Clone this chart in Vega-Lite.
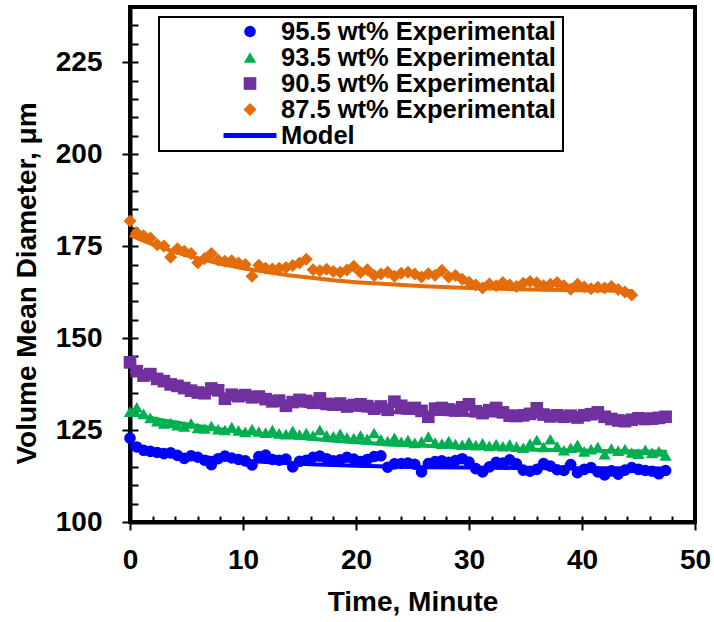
{
  "$schema": "https://vega.github.io/schema/vega-lite/v6.json",
  "width": 565,
  "height": 515,
  "autosize": {"type": "none"},
  "padding": {"left": 130, "top": 7, "right": 19, "bottom": 100},
  "background": "white",
  "config": {
    "view": {"stroke": "black", "strokeWidth": 4},
    "font": "Liberation Sans",
    "axis": {
      "grid": false,
      "domainColor": "black",
      "domainWidth": 4,
      "tickColor": "black",
      "tickWidth": 2,
      "labelFont": "Liberation Sans",
      "labelFontSize": 28,
      "labelFontWeight": "bold",
      "labelColor": "black",
      "titleFont": "Liberation Sans",
      "titleFontSize": 28,
      "titleFontWeight": "bold",
      "titleColor": "black"
    },
    "legend": {
      "orient": "none", "legendX": 29, "legendY": 10, "padding": 2, "rowPadding": 0, "clipHeight": 25,
      "symbolOffset": 62.5, "labelOffset": 4.5, "symbolStrokeWidth": 0,
      "strokeColor": "black", "fillColor": "white", "strokeWidth": 2,
      "titleOrient": "right", "titlePadding": 5, "titleFont": "Liberation Sans", "titleFontSize": 25.5, "titleFontWeight": "bold",
      "labelFont": "Liberation Sans", "labelFontSize": 25.5, "labelFontWeight": "bold", "labelColor": "black", "labelLimit": 600
    }
  },
  "datasets": {
    "model": [
      {"s": "95.5 wt% Experimental", "t": 0, "d": 120.5},
      {"s": "95.5 wt% Experimental", "t": 1, "d": 119.9},
      {"s": "95.5 wt% Experimental", "t": 2, "d": 119.4},
      {"s": "95.5 wt% Experimental", "t": 3, "d": 119.0},
      {"s": "95.5 wt% Experimental", "t": 4, "d": 118.5},
      {"s": "95.5 wt% Experimental", "t": 5, "d": 118.1},
      {"s": "95.5 wt% Experimental", "t": 6, "d": 117.8},
      {"s": "95.5 wt% Experimental", "t": 8, "d": 117.2},
      {"s": "95.5 wt% Experimental", "t": 10, "d": 116.7},
      {"s": "95.5 wt% Experimental", "t": 12, "d": 116.3},
      {"s": "95.5 wt% Experimental", "t": 14, "d": 116.0},
      {"s": "95.5 wt% Experimental", "t": 16, "d": 115.7},
      {"s": "95.5 wt% Experimental", "t": 18, "d": 115.5},
      {"s": "95.5 wt% Experimental", "t": 20, "d": 115.3},
      {"s": "95.5 wt% Experimental", "t": 23, "d": 115.1},
      {"s": "95.5 wt% Experimental", "t": 26, "d": 114.9},
      {"s": "95.5 wt% Experimental", "t": 30, "d": 114.8},
      {"s": "95.5 wt% Experimental", "t": 34, "d": 114.7},
      {"s": "95.5 wt% Experimental", "t": 38, "d": 114.6},
      {"s": "95.5 wt% Experimental", "t": 42, "d": 114.6},
      {"s": "95.5 wt% Experimental", "t": 47.5, "d": 114.55},
      {"s": "93.5 wt% Experimental", "t": 0, "d": 129.5},
      {"s": "93.5 wt% Experimental", "t": 1, "d": 128.8},
      {"s": "93.5 wt% Experimental", "t": 2, "d": 128.2},
      {"s": "93.5 wt% Experimental", "t": 3, "d": 127.6},
      {"s": "93.5 wt% Experimental", "t": 4, "d": 127.1},
      {"s": "93.5 wt% Experimental", "t": 5, "d": 126.6},
      {"s": "93.5 wt% Experimental", "t": 6, "d": 126.1},
      {"s": "93.5 wt% Experimental", "t": 8, "d": 125.2},
      {"s": "93.5 wt% Experimental", "t": 10, "d": 124.4},
      {"s": "93.5 wt% Experimental", "t": 12, "d": 123.7},
      {"s": "93.5 wt% Experimental", "t": 14, "d": 123.1},
      {"s": "93.5 wt% Experimental", "t": 16, "d": 122.6},
      {"s": "93.5 wt% Experimental", "t": 18, "d": 122.1},
      {"s": "93.5 wt% Experimental", "t": 20, "d": 121.7},
      {"s": "93.5 wt% Experimental", "t": 23, "d": 121.1},
      {"s": "93.5 wt% Experimental", "t": 26, "d": 120.7},
      {"s": "93.5 wt% Experimental", "t": 30, "d": 120.2},
      {"s": "93.5 wt% Experimental", "t": 34, "d": 119.8},
      {"s": "93.5 wt% Experimental", "t": 38, "d": 119.5},
      {"s": "93.5 wt% Experimental", "t": 42, "d": 119.3},
      {"s": "93.5 wt% Experimental", "t": 47.5, "d": 119.1},
      {"s": "90.5 wt% Experimental", "t": 0, "d": 141.0},
      {"s": "90.5 wt% Experimental", "t": 1, "d": 140.0},
      {"s": "90.5 wt% Experimental", "t": 2, "d": 139.0},
      {"s": "90.5 wt% Experimental", "t": 3, "d": 138.1},
      {"s": "90.5 wt% Experimental", "t": 4, "d": 137.3},
      {"s": "90.5 wt% Experimental", "t": 5, "d": 136.6},
      {"s": "90.5 wt% Experimental", "t": 6, "d": 135.9},
      {"s": "90.5 wt% Experimental", "t": 8, "d": 134.7},
      {"s": "90.5 wt% Experimental", "t": 10, "d": 133.7},
      {"s": "90.5 wt% Experimental", "t": 12, "d": 132.8},
      {"s": "90.5 wt% Experimental", "t": 14, "d": 132.1},
      {"s": "90.5 wt% Experimental", "t": 16, "d": 131.4},
      {"s": "90.5 wt% Experimental", "t": 18, "d": 130.9},
      {"s": "90.5 wt% Experimental", "t": 20, "d": 130.5},
      {"s": "90.5 wt% Experimental", "t": 23, "d": 129.9},
      {"s": "90.5 wt% Experimental", "t": 26, "d": 129.5},
      {"s": "90.5 wt% Experimental", "t": 30, "d": 129.1},
      {"s": "90.5 wt% Experimental", "t": 34, "d": 128.8},
      {"s": "90.5 wt% Experimental", "t": 38, "d": 128.6},
      {"s": "90.5 wt% Experimental", "t": 42, "d": 128.4},
      {"s": "90.5 wt% Experimental", "t": 47.5, "d": 128.3},
      {"s": "87.5 wt% Experimental", "t": 0, "d": 178.0},
      {"s": "87.5 wt% Experimental", "t": 1, "d": 176.7},
      {"s": "87.5 wt% Experimental", "t": 2, "d": 175.5},
      {"s": "87.5 wt% Experimental", "t": 3, "d": 174.4},
      {"s": "87.5 wt% Experimental", "t": 4, "d": 173.4},
      {"s": "87.5 wt% Experimental", "t": 5, "d": 172.5},
      {"s": "87.5 wt% Experimental", "t": 6, "d": 171.7},
      {"s": "87.5 wt% Experimental", "t": 8, "d": 170.2},
      {"s": "87.5 wt% Experimental", "t": 10, "d": 169.0},
      {"s": "87.5 wt% Experimental", "t": 12, "d": 168.0},
      {"s": "87.5 wt% Experimental", "t": 14, "d": 167.1},
      {"s": "87.5 wt% Experimental", "t": 16, "d": 166.4},
      {"s": "87.5 wt% Experimental", "t": 18, "d": 165.7},
      {"s": "87.5 wt% Experimental", "t": 20, "d": 165.2},
      {"s": "87.5 wt% Experimental", "t": 23, "d": 164.6},
      {"s": "87.5 wt% Experimental", "t": 26, "d": 164.1},
      {"s": "87.5 wt% Experimental", "t": 30, "d": 163.6},
      {"s": "87.5 wt% Experimental", "t": 34, "d": 163.3},
      {"s": "87.5 wt% Experimental", "t": 38, "d": 163.1},
      {"s": "87.5 wt% Experimental", "t": 42, "d": 162.9},
      {"s": "87.5 wt% Experimental", "t": 44.4, "d": 162.8}
    ],
    "exp": [
      {"s": "95.5 wt% Experimental", "t": 0, "d": 122.8},
      {"s": "95.5 wt% Experimental", "t": 0.6, "d": 120.4},
      {"s": "95.5 wt% Experimental", "t": 1.2, "d": 119.5},
      {"s": "95.5 wt% Experimental", "t": 1.8, "d": 119.2},
      {"s": "95.5 wt% Experimental", "t": 2.4, "d": 118.9},
      {"s": "95.5 wt% Experimental", "t": 3.0, "d": 118.6},
      {"s": "95.5 wt% Experimental", "t": 3.6, "d": 118.8},
      {"s": "95.5 wt% Experimental", "t": 4.2, "d": 118.1},
      {"s": "95.5 wt% Experimental", "t": 4.8, "d": 117.3},
      {"s": "95.5 wt% Experimental", "t": 5.4, "d": 118.0},
      {"s": "95.5 wt% Experimental", "t": 6.0, "d": 117.6},
      {"s": "95.5 wt% Experimental", "t": 6.6, "d": 116.8},
      {"s": "95.5 wt% Experimental", "t": 7.2, "d": 115.6},
      {"s": "95.5 wt% Experimental", "t": 7.8, "d": 117.2},
      {"s": "95.5 wt% Experimental", "t": 8.4, "d": 117.9},
      {"s": "95.5 wt% Experimental", "t": 9.0, "d": 117.4},
      {"s": "95.5 wt% Experimental", "t": 9.6, "d": 117.0},
      {"s": "95.5 wt% Experimental", "t": 10.2, "d": 116.6},
      {"s": "95.5 wt% Experimental", "t": 10.8, "d": 115.5},
      {"s": "95.5 wt% Experimental", "t": 11.4, "d": 117.8},
      {"s": "95.5 wt% Experimental", "t": 12.0, "d": 118.2},
      {"s": "95.5 wt% Experimental", "t": 12.6, "d": 117.0},
      {"s": "95.5 wt% Experimental", "t": 13.2, "d": 116.8},
      {"s": "95.5 wt% Experimental", "t": 13.8, "d": 117.1},
      {"s": "95.5 wt% Experimental", "t": 14.4, "d": 115.0},
      {"s": "95.5 wt% Experimental", "t": 15.0, "d": 116.5},
      {"s": "95.5 wt% Experimental", "t": 15.6, "d": 116.8},
      {"s": "95.5 wt% Experimental", "t": 16.2, "d": 117.6},
      {"s": "95.5 wt% Experimental", "t": 16.8, "d": 117.9},
      {"s": "95.5 wt% Experimental", "t": 17.4, "d": 117.2},
      {"s": "95.5 wt% Experimental", "t": 18.0, "d": 116.6},
      {"s": "95.5 wt% Experimental", "t": 18.6, "d": 116.9},
      {"s": "95.5 wt% Experimental", "t": 19.2, "d": 117.6},
      {"s": "95.5 wt% Experimental", "t": 19.8, "d": 117.1},
      {"s": "95.5 wt% Experimental", "t": 20.4, "d": 116.4},
      {"s": "95.5 wt% Experimental", "t": 21.0, "d": 117.0},
      {"s": "95.5 wt% Experimental", "t": 21.6, "d": 117.8},
      {"s": "95.5 wt% Experimental", "t": 22.2, "d": 118.0},
      {"s": "95.5 wt% Experimental", "t": 22.8, "d": 114.9},
      {"s": "95.5 wt% Experimental", "t": 23.4, "d": 115.8},
      {"s": "95.5 wt% Experimental", "t": 24.0, "d": 115.9},
      {"s": "95.5 wt% Experimental", "t": 24.6, "d": 116.0},
      {"s": "95.5 wt% Experimental", "t": 25.2, "d": 115.7},
      {"s": "95.5 wt% Experimental", "t": 25.8, "d": 113.6},
      {"s": "95.5 wt% Experimental", "t": 26.4, "d": 115.9},
      {"s": "95.5 wt% Experimental", "t": 27.0, "d": 116.4},
      {"s": "95.5 wt% Experimental", "t": 27.6, "d": 116.6},
      {"s": "95.5 wt% Experimental", "t": 28.2, "d": 116.2},
      {"s": "95.5 wt% Experimental", "t": 28.8, "d": 116.7},
      {"s": "95.5 wt% Experimental", "t": 29.4, "d": 117.2},
      {"s": "95.5 wt% Experimental", "t": 30.0, "d": 116.3},
      {"s": "95.5 wt% Experimental", "t": 30.6, "d": 114.5},
      {"s": "95.5 wt% Experimental", "t": 31.2, "d": 113.6},
      {"s": "95.5 wt% Experimental", "t": 31.8, "d": 115.0},
      {"s": "95.5 wt% Experimental", "t": 32.4, "d": 116.2},
      {"s": "95.5 wt% Experimental", "t": 33.0, "d": 116.0},
      {"s": "95.5 wt% Experimental", "t": 33.6, "d": 116.9},
      {"s": "95.5 wt% Experimental", "t": 34.2, "d": 115.8},
      {"s": "95.5 wt% Experimental", "t": 34.8, "d": 114.1},
      {"s": "95.5 wt% Experimental", "t": 35.4, "d": 113.8},
      {"s": "95.5 wt% Experimental", "t": 36.0, "d": 114.3},
      {"s": "95.5 wt% Experimental", "t": 36.6, "d": 115.9},
      {"s": "95.5 wt% Experimental", "t": 37.2, "d": 115.2},
      {"s": "95.5 wt% Experimental", "t": 37.8, "d": 114.2},
      {"s": "95.5 wt% Experimental", "t": 38.4, "d": 114.0},
      {"s": "95.5 wt% Experimental", "t": 39.0, "d": 115.6},
      {"s": "95.5 wt% Experimental", "t": 39.6, "d": 113.4},
      {"s": "95.5 wt% Experimental", "t": 40.2, "d": 114.3},
      {"s": "95.5 wt% Experimental", "t": 40.8, "d": 114.8},
      {"s": "95.5 wt% Experimental", "t": 41.4, "d": 113.6},
      {"s": "95.5 wt% Experimental", "t": 42.0, "d": 112.8},
      {"s": "95.5 wt% Experimental", "t": 42.6, "d": 113.9},
      {"s": "95.5 wt% Experimental", "t": 43.2, "d": 113.0},
      {"s": "95.5 wt% Experimental", "t": 43.8, "d": 114.1},
      {"s": "95.5 wt% Experimental", "t": 44.4, "d": 114.8},
      {"s": "95.5 wt% Experimental", "t": 45.0, "d": 114.3},
      {"s": "95.5 wt% Experimental", "t": 45.6, "d": 114.0},
      {"s": "95.5 wt% Experimental", "t": 46.2, "d": 113.8},
      {"s": "95.5 wt% Experimental", "t": 46.8, "d": 113.1},
      {"s": "95.5 wt% Experimental", "t": 47.4, "d": 114.0},
      {"s": "93.5 wt% Experimental", "t": 0, "d": 130.0},
      {"s": "93.5 wt% Experimental", "t": 0.6, "d": 131.2},
      {"s": "93.5 wt% Experimental", "t": 1.2, "d": 129.4},
      {"s": "93.5 wt% Experimental", "t": 1.8, "d": 128.3},
      {"s": "93.5 wt% Experimental", "t": 2.4, "d": 127.4},
      {"s": "93.5 wt% Experimental", "t": 3.0, "d": 126.8},
      {"s": "93.5 wt% Experimental", "t": 3.6, "d": 126.9},
      {"s": "93.5 wt% Experimental", "t": 4.2, "d": 126.3},
      {"s": "93.5 wt% Experimental", "t": 4.8, "d": 126.0},
      {"s": "93.5 wt% Experimental", "t": 5.4, "d": 126.8},
      {"s": "93.5 wt% Experimental", "t": 6.0, "d": 125.6},
      {"s": "93.5 wt% Experimental", "t": 6.6, "d": 125.4},
      {"s": "93.5 wt% Experimental", "t": 7.2, "d": 126.1},
      {"s": "93.5 wt% Experimental", "t": 7.8, "d": 125.2},
      {"s": "93.5 wt% Experimental", "t": 8.4, "d": 125.0},
      {"s": "93.5 wt% Experimental", "t": 9.0, "d": 125.8},
      {"s": "93.5 wt% Experimental", "t": 9.6, "d": 124.9},
      {"s": "93.5 wt% Experimental", "t": 10.2, "d": 124.5},
      {"s": "93.5 wt% Experimental", "t": 10.8, "d": 125.3},
      {"s": "93.5 wt% Experimental", "t": 11.4, "d": 124.6},
      {"s": "93.5 wt% Experimental", "t": 12.0, "d": 124.3},
      {"s": "93.5 wt% Experimental", "t": 12.6, "d": 125.0},
      {"s": "93.5 wt% Experimental", "t": 13.2, "d": 124.1},
      {"s": "93.5 wt% Experimental", "t": 13.8, "d": 123.9},
      {"s": "93.5 wt% Experimental", "t": 14.4, "d": 124.8},
      {"s": "93.5 wt% Experimental", "t": 15.0, "d": 123.8},
      {"s": "93.5 wt% Experimental", "t": 15.6, "d": 124.2},
      {"s": "93.5 wt% Experimental", "t": 16.2, "d": 123.5},
      {"s": "93.5 wt% Experimental", "t": 16.8, "d": 125.0},
      {"s": "93.5 wt% Experimental", "t": 17.4, "d": 123.6},
      {"s": "93.5 wt% Experimental", "t": 18.0, "d": 123.3},
      {"s": "93.5 wt% Experimental", "t": 18.6, "d": 124.0},
      {"s": "93.5 wt% Experimental", "t": 19.2, "d": 123.0},
      {"s": "93.5 wt% Experimental", "t": 19.8, "d": 122.8},
      {"s": "93.5 wt% Experimental", "t": 20.4, "d": 123.5},
      {"s": "93.5 wt% Experimental", "t": 21.0, "d": 122.6},
      {"s": "93.5 wt% Experimental", "t": 21.6, "d": 124.2},
      {"s": "93.5 wt% Experimental", "t": 22.2, "d": 122.5},
      {"s": "93.5 wt% Experimental", "t": 22.8, "d": 122.0},
      {"s": "93.5 wt% Experimental", "t": 23.4, "d": 122.9},
      {"s": "93.5 wt% Experimental", "t": 24.0, "d": 121.8},
      {"s": "93.5 wt% Experimental", "t": 24.6, "d": 122.3},
      {"s": "93.5 wt% Experimental", "t": 25.2, "d": 121.5},
      {"s": "93.5 wt% Experimental", "t": 25.8, "d": 121.9},
      {"s": "93.5 wt% Experimental", "t": 26.4, "d": 123.2},
      {"s": "93.5 wt% Experimental", "t": 27.0, "d": 121.6},
      {"s": "93.5 wt% Experimental", "t": 27.6, "d": 121.3},
      {"s": "93.5 wt% Experimental", "t": 28.2, "d": 122.0},
      {"s": "93.5 wt% Experimental", "t": 28.8, "d": 121.2},
      {"s": "93.5 wt% Experimental", "t": 29.4, "d": 121.0},
      {"s": "93.5 wt% Experimental", "t": 30.0, "d": 121.7},
      {"s": "93.5 wt% Experimental", "t": 30.6, "d": 120.9},
      {"s": "93.5 wt% Experimental", "t": 31.2, "d": 121.4},
      {"s": "93.5 wt% Experimental", "t": 31.8, "d": 120.7},
      {"s": "93.5 wt% Experimental", "t": 32.4, "d": 121.2},
      {"s": "93.5 wt% Experimental", "t": 33.0, "d": 120.6},
      {"s": "93.5 wt% Experimental", "t": 33.6, "d": 121.1},
      {"s": "93.5 wt% Experimental", "t": 34.2, "d": 120.5},
      {"s": "93.5 wt% Experimental", "t": 34.8, "d": 120.2},
      {"s": "93.5 wt% Experimental", "t": 35.4, "d": 121.3},
      {"s": "93.5 wt% Experimental", "t": 36.0, "d": 122.3},
      {"s": "93.5 wt% Experimental", "t": 36.6, "d": 120.4},
      {"s": "93.5 wt% Experimental", "t": 37.2, "d": 122.5},
      {"s": "93.5 wt% Experimental", "t": 37.8, "d": 120.6},
      {"s": "93.5 wt% Experimental", "t": 38.4, "d": 119.5},
      {"s": "93.5 wt% Experimental", "t": 39.0, "d": 120.2},
      {"s": "93.5 wt% Experimental", "t": 39.6, "d": 121.0},
      {"s": "93.5 wt% Experimental", "t": 40.2, "d": 119.2},
      {"s": "93.5 wt% Experimental", "t": 40.8, "d": 119.8},
      {"s": "93.5 wt% Experimental", "t": 41.4, "d": 120.4},
      {"s": "93.5 wt% Experimental", "t": 42.0, "d": 118.4},
      {"s": "93.5 wt% Experimental", "t": 42.6, "d": 120.0},
      {"s": "93.5 wt% Experimental", "t": 43.2, "d": 119.4},
      {"s": "93.5 wt% Experimental", "t": 43.8, "d": 119.8},
      {"s": "93.5 wt% Experimental", "t": 44.4, "d": 118.9},
      {"s": "93.5 wt% Experimental", "t": 45.0, "d": 118.6},
      {"s": "93.5 wt% Experimental", "t": 45.6, "d": 119.6},
      {"s": "93.5 wt% Experimental", "t": 46.2, "d": 118.8},
      {"s": "93.5 wt% Experimental", "t": 46.8, "d": 119.2},
      {"s": "93.5 wt% Experimental", "t": 47.4, "d": 118.1},
      {"s": "90.5 wt% Experimental", "t": 0, "d": 143.4},
      {"s": "90.5 wt% Experimental", "t": 0.6, "d": 141.0},
      {"s": "90.5 wt% Experimental", "t": 1.2, "d": 139.8},
      {"s": "90.5 wt% Experimental", "t": 1.8, "d": 140.2},
      {"s": "90.5 wt% Experimental", "t": 2.4, "d": 138.9},
      {"s": "90.5 wt% Experimental", "t": 3.0, "d": 138.3},
      {"s": "90.5 wt% Experimental", "t": 3.6, "d": 137.4},
      {"s": "90.5 wt% Experimental", "t": 4.2, "d": 137.0},
      {"s": "90.5 wt% Experimental", "t": 4.8, "d": 136.4},
      {"s": "90.5 wt% Experimental", "t": 5.4, "d": 135.7},
      {"s": "90.5 wt% Experimental", "t": 6.0, "d": 135.2},
      {"s": "90.5 wt% Experimental", "t": 6.6, "d": 135.0},
      {"s": "90.5 wt% Experimental", "t": 7.2, "d": 136.3},
      {"s": "90.5 wt% Experimental", "t": 7.8, "d": 135.8},
      {"s": "90.5 wt% Experimental", "t": 8.4, "d": 133.5},
      {"s": "90.5 wt% Experimental", "t": 9.0, "d": 134.6},
      {"s": "90.5 wt% Experimental", "t": 9.6, "d": 134.2},
      {"s": "90.5 wt% Experimental", "t": 10.2, "d": 134.5},
      {"s": "90.5 wt% Experimental", "t": 10.8, "d": 133.9},
      {"s": "90.5 wt% Experimental", "t": 11.4, "d": 134.1},
      {"s": "90.5 wt% Experimental", "t": 12.0, "d": 133.4},
      {"s": "90.5 wt% Experimental", "t": 12.6, "d": 132.8},
      {"s": "90.5 wt% Experimental", "t": 13.2, "d": 133.0},
      {"s": "90.5 wt% Experimental", "t": 13.8, "d": 131.6},
      {"s": "90.5 wt% Experimental", "t": 14.4, "d": 132.6},
      {"s": "90.5 wt% Experimental", "t": 15.0, "d": 133.2},
      {"s": "90.5 wt% Experimental", "t": 15.6, "d": 132.9},
      {"s": "90.5 wt% Experimental", "t": 16.2, "d": 132.4},
      {"s": "90.5 wt% Experimental", "t": 16.8, "d": 133.6},
      {"s": "90.5 wt% Experimental", "t": 17.4, "d": 132.1},
      {"s": "90.5 wt% Experimental", "t": 18.0, "d": 131.9},
      {"s": "90.5 wt% Experimental", "t": 18.6, "d": 132.2},
      {"s": "90.5 wt% Experimental", "t": 19.2, "d": 131.4},
      {"s": "90.5 wt% Experimental", "t": 19.8, "d": 131.8},
      {"s": "90.5 wt% Experimental", "t": 20.4, "d": 132.0},
      {"s": "90.5 wt% Experimental", "t": 21.0, "d": 131.5},
      {"s": "90.5 wt% Experimental", "t": 21.6, "d": 130.8},
      {"s": "90.5 wt% Experimental", "t": 22.2, "d": 131.4},
      {"s": "90.5 wt% Experimental", "t": 22.8, "d": 130.5},
      {"s": "90.5 wt% Experimental", "t": 23.4, "d": 132.7},
      {"s": "90.5 wt% Experimental", "t": 24.0, "d": 131.6},
      {"s": "90.5 wt% Experimental", "t": 24.6, "d": 130.9},
      {"s": "90.5 wt% Experimental", "t": 25.2, "d": 131.0},
      {"s": "90.5 wt% Experimental", "t": 25.8, "d": 130.2},
      {"s": "90.5 wt% Experimental", "t": 26.4, "d": 128.6},
      {"s": "90.5 wt% Experimental", "t": 27.0, "d": 130.8},
      {"s": "90.5 wt% Experimental", "t": 27.6, "d": 131.0},
      {"s": "90.5 wt% Experimental", "t": 28.2, "d": 130.6},
      {"s": "90.5 wt% Experimental", "t": 28.8, "d": 130.3},
      {"s": "90.5 wt% Experimental", "t": 29.4, "d": 131.2},
      {"s": "90.5 wt% Experimental", "t": 30.0, "d": 132.0},
      {"s": "90.5 wt% Experimental", "t": 30.6, "d": 130.1},
      {"s": "90.5 wt% Experimental", "t": 31.2, "d": 129.6},
      {"s": "90.5 wt% Experimental", "t": 31.8, "d": 130.4},
      {"s": "90.5 wt% Experimental", "t": 32.4, "d": 131.0},
      {"s": "90.5 wt% Experimental", "t": 33.0, "d": 129.8},
      {"s": "90.5 wt% Experimental", "t": 33.6, "d": 128.9},
      {"s": "90.5 wt% Experimental", "t": 34.2, "d": 128.8},
      {"s": "90.5 wt% Experimental", "t": 34.8, "d": 129.0},
      {"s": "90.5 wt% Experimental", "t": 35.4, "d": 129.4},
      {"s": "90.5 wt% Experimental", "t": 36.0, "d": 130.9},
      {"s": "90.5 wt% Experimental", "t": 36.6, "d": 129.2},
      {"s": "90.5 wt% Experimental", "t": 37.2, "d": 128.7},
      {"s": "90.5 wt% Experimental", "t": 37.8, "d": 129.0},
      {"s": "90.5 wt% Experimental", "t": 38.4, "d": 128.6},
      {"s": "90.5 wt% Experimental", "t": 39.0, "d": 128.9},
      {"s": "90.5 wt% Experimental", "t": 39.6, "d": 128.4},
      {"s": "90.5 wt% Experimental", "t": 40.2, "d": 129.0},
      {"s": "90.5 wt% Experimental", "t": 40.8, "d": 129.3},
      {"s": "90.5 wt% Experimental", "t": 41.4, "d": 129.8},
      {"s": "90.5 wt% Experimental", "t": 42.0, "d": 128.6},
      {"s": "90.5 wt% Experimental", "t": 42.6, "d": 128.0},
      {"s": "90.5 wt% Experimental", "t": 43.2, "d": 127.6},
      {"s": "90.5 wt% Experimental", "t": 43.8, "d": 127.4},
      {"s": "90.5 wt% Experimental", "t": 44.4, "d": 127.8},
      {"s": "90.5 wt% Experimental", "t": 45.0, "d": 128.2},
      {"s": "90.5 wt% Experimental", "t": 45.6, "d": 128.0},
      {"s": "90.5 wt% Experimental", "t": 46.2, "d": 128.1},
      {"s": "90.5 wt% Experimental", "t": 46.8, "d": 128.3},
      {"s": "90.5 wt% Experimental", "t": 47.4, "d": 128.6},
      {"s": "87.5 wt% Experimental", "t": 0, "d": 181.8},
      {"s": "87.5 wt% Experimental", "t": 0.6, "d": 178.6},
      {"s": "87.5 wt% Experimental", "t": 1.2, "d": 177.8},
      {"s": "87.5 wt% Experimental", "t": 1.8, "d": 177.2},
      {"s": "87.5 wt% Experimental", "t": 2.4, "d": 175.4},
      {"s": "87.5 wt% Experimental", "t": 3.0, "d": 175.0},
      {"s": "87.5 wt% Experimental", "t": 3.6, "d": 172.0},
      {"s": "87.5 wt% Experimental", "t": 4.2, "d": 174.3},
      {"s": "87.5 wt% Experimental", "t": 4.8, "d": 173.6},
      {"s": "87.5 wt% Experimental", "t": 5.4, "d": 173.0},
      {"s": "87.5 wt% Experimental", "t": 6.0, "d": 170.5},
      {"s": "87.5 wt% Experimental", "t": 6.6, "d": 171.6},
      {"s": "87.5 wt% Experimental", "t": 7.2, "d": 173.0},
      {"s": "87.5 wt% Experimental", "t": 7.8, "d": 171.2},
      {"s": "87.5 wt% Experimental", "t": 8.4, "d": 170.9},
      {"s": "87.5 wt% Experimental", "t": 9.0, "d": 171.0},
      {"s": "87.5 wt% Experimental", "t": 9.6, "d": 170.4},
      {"s": "87.5 wt% Experimental", "t": 10.2, "d": 170.0},
      {"s": "87.5 wt% Experimental", "t": 10.8, "d": 166.8},
      {"s": "87.5 wt% Experimental", "t": 11.4, "d": 169.8},
      {"s": "87.5 wt% Experimental", "t": 12.0, "d": 169.0},
      {"s": "87.5 wt% Experimental", "t": 12.6, "d": 168.8},
      {"s": "87.5 wt% Experimental", "t": 13.2, "d": 169.0},
      {"s": "87.5 wt% Experimental", "t": 13.8, "d": 169.2},
      {"s": "87.5 wt% Experimental", "t": 14.4, "d": 169.7},
      {"s": "87.5 wt% Experimental", "t": 15.0, "d": 170.4},
      {"s": "87.5 wt% Experimental", "t": 15.6, "d": 171.4},
      {"s": "87.5 wt% Experimental", "t": 16.2, "d": 168.6},
      {"s": "87.5 wt% Experimental", "t": 16.8, "d": 168.3},
      {"s": "87.5 wt% Experimental", "t": 17.4, "d": 168.7},
      {"s": "87.5 wt% Experimental", "t": 18.0, "d": 168.1},
      {"s": "87.5 wt% Experimental", "t": 18.6, "d": 167.9},
      {"s": "87.5 wt% Experimental", "t": 19.2, "d": 168.5},
      {"s": "87.5 wt% Experimental", "t": 19.8, "d": 169.5},
      {"s": "87.5 wt% Experimental", "t": 20.4, "d": 167.8},
      {"s": "87.5 wt% Experimental", "t": 21.0, "d": 168.6},
      {"s": "87.5 wt% Experimental", "t": 21.6, "d": 167.0},
      {"s": "87.5 wt% Experimental", "t": 22.2, "d": 167.4},
      {"s": "87.5 wt% Experimental", "t": 22.8, "d": 167.9},
      {"s": "87.5 wt% Experimental", "t": 23.4, "d": 166.8},
      {"s": "87.5 wt% Experimental", "t": 24.0, "d": 167.6},
      {"s": "87.5 wt% Experimental", "t": 24.6, "d": 167.9},
      {"s": "87.5 wt% Experimental", "t": 25.2, "d": 167.4},
      {"s": "87.5 wt% Experimental", "t": 25.8, "d": 166.6},
      {"s": "87.5 wt% Experimental", "t": 26.4, "d": 167.5},
      {"s": "87.5 wt% Experimental", "t": 27.0, "d": 167.1},
      {"s": "87.5 wt% Experimental", "t": 27.6, "d": 168.4},
      {"s": "87.5 wt% Experimental", "t": 28.2, "d": 166.6},
      {"s": "87.5 wt% Experimental", "t": 28.8, "d": 167.0},
      {"s": "87.5 wt% Experimental", "t": 29.4, "d": 166.0},
      {"s": "87.5 wt% Experimental", "t": 30.0, "d": 165.2},
      {"s": "87.5 wt% Experimental", "t": 30.6, "d": 164.4},
      {"s": "87.5 wt% Experimental", "t": 31.2, "d": 163.6},
      {"s": "87.5 wt% Experimental", "t": 31.8, "d": 164.7},
      {"s": "87.5 wt% Experimental", "t": 32.4, "d": 164.2},
      {"s": "87.5 wt% Experimental", "t": 33.0, "d": 165.1},
      {"s": "87.5 wt% Experimental", "t": 33.6, "d": 164.4},
      {"s": "87.5 wt% Experimental", "t": 34.2, "d": 164.0},
      {"s": "87.5 wt% Experimental", "t": 34.8, "d": 164.9},
      {"s": "87.5 wt% Experimental", "t": 35.4, "d": 165.4},
      {"s": "87.5 wt% Experimental", "t": 36.0, "d": 165.0},
      {"s": "87.5 wt% Experimental", "t": 36.6, "d": 164.2},
      {"s": "87.5 wt% Experimental", "t": 37.2, "d": 164.6},
      {"s": "87.5 wt% Experimental", "t": 37.8, "d": 165.1},
      {"s": "87.5 wt% Experimental", "t": 38.4, "d": 164.2},
      {"s": "87.5 wt% Experimental", "t": 39.0, "d": 163.3},
      {"s": "87.5 wt% Experimental", "t": 39.6, "d": 164.6},
      {"s": "87.5 wt% Experimental", "t": 40.2, "d": 163.9},
      {"s": "87.5 wt% Experimental", "t": 40.8, "d": 163.4},
      {"s": "87.5 wt% Experimental", "t": 41.4, "d": 163.8},
      {"s": "87.5 wt% Experimental", "t": 42.0, "d": 163.6},
      {"s": "87.5 wt% Experimental", "t": 42.6, "d": 164.0},
      {"s": "87.5 wt% Experimental", "t": 43.2, "d": 163.2},
      {"s": "87.5 wt% Experimental", "t": 43.8, "d": 162.5},
      {"s": "87.5 wt% Experimental", "t": 44.4, "d": 161.7}
    ]
  },
  "layer": [
    {
      "data": {"name": "model"},
      "mark": {"type": "line", "strokeWidth": 4},
      "encoding": {
        "x": {
          "field": "t", "type": "quantitative",
          "scale": {"domain": [0, 50], "nice": false},
          "axis": {"orient": "bottom", "values": [0, 10, 20, 30, 40, 50], "tickSize": 8, "labelPadding": 16, "labelFlush": false, "labelOverlap": false, "title": "Time, Minute", "titleY": 88, "titleBaseline": "alphabetic"}
        },
        "y": {
          "field": "d", "type": "quantitative",
          "scale": {"domain": [100, 240], "nice": false, "zero": false},
          "axis": {"orient": "left", "values": [100, 125, 150, 175, 200, 225], "tickSize": 8, "labelPadding": 20, "labelOverlap": false, "title": "Volume Mean Diameter, μm", "titleX": -95, "titleY": 276, "titleAngle": -90, "titleAlign": "center", "titleBaseline": "alphabetic"}
        },
        "stroke": {
          "field": "s", "type": "nominal",
          "scale": {"domain": ["95.5 wt% Experimental", "93.5 wt% Experimental", "90.5 wt% Experimental", "87.5 wt% Experimental"], "range": ["#0000FF", "#00B050", "#7030A0", "#E46C0A"]},
          "legend": null
        }
      }
    },
    {
      "data": {"name": "exp"},
      "mark": {"type": "point", "filled": true, "opacity": 1},
      "encoding": {
        "x": {
          "field": "t", "type": "quantitative",
          "scale": {"domain": [0, 50], "nice": false},
          "axis": {"orient": "bottom", "values": [0, 2, 4, 6, 8, 10, 12, 14, 16, 18, 20, 22, 24, 26, 28, 30, 32, 34, 36, 38, 40, 42, 44, 46, 48, 50], "tickSize": -6, "labels": false, "domain": false, "title": null}
        },
        "y": {
          "field": "d", "type": "quantitative",
          "scale": {"domain": [100, 240], "nice": false, "zero": false},
          "axis": {"orient": "left", "values": [100, 105, 110, 115, 120, 125, 130, 135, 140, 145, 150, 155, 160, 165, 170, 175, 180, 185, 190, 195, 200, 205, 210, 215, 220, 225, 230, 235, 240], "tickSize": -8, "labels": false, "domain": false, "title": null}
        },
        "color": {
          "field": "s", "type": "nominal",
          "scale": {"domain": ["95.5 wt% Experimental", "93.5 wt% Experimental", "90.5 wt% Experimental", "87.5 wt% Experimental", "Model"], "range": ["#0000FF", "#00B050", "#7030A0", "#E46C0A", "#0000FF"]},
          "legend": {"title": "\u00a0\u00a0\u00a0\u00a0\u00a0\u00a0\u00a0\u00a0\u00a0"}
        },
        "shape": {
          "field": "s", "type": "nominal",
          "scale": {"domain": ["95.5 wt% Experimental", "93.5 wt% Experimental", "90.5 wt% Experimental", "87.5 wt% Experimental", "Model"], "range": ["circle", "triangle-up", "square", "diamond", "M-1,-0.09L1,-0.09L1,0.09L-1,0.09Z"]},
          "legend": {"title": "\u00a0\u00a0\u00a0\u00a0\u00a0\u00a0\u00a0\u00a0\u00a0"}
        },
        "size": {
          "field": "s", "type": "nominal",
          "scale": {"type": "ordinal", "domain": ["95.5 wt% Experimental", "93.5 wt% Experimental", "90.5 wt% Experimental", "87.5 wt% Experimental", "Model"], "range": [135, 150, 160, 170, 2800]},
          "legend": {"title": "\u00a0\u00a0\u00a0\u00a0\u00a0\u00a0\u00a0\u00a0\u00a0"}
        }
      }
    }
  ],
  "resolve": {"axis": {"x": "independent", "y": "independent"}}
}
